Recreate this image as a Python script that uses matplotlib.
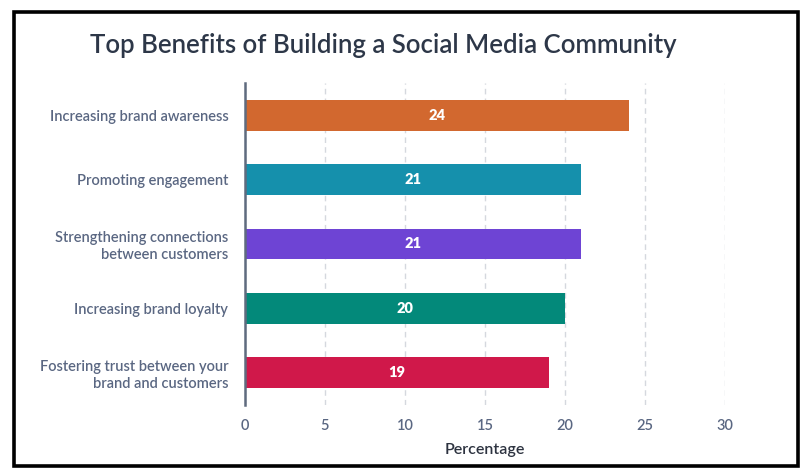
import matplotlib
matplotlib.use("Agg")
import matplotlib.pyplot as plt
from matplotlib.patches import Rectangle

# Datos
categorias = ["Increasing brand awareness",
              "Promoting engagement",
              "Strengthening connections\nbetween customers",
              "Increasing brand loyalty",
              "Fostering trust between your\nbrand and customers"]
valores = [24, 21, 21, 20, 19]
colores = ["#D2682F", "#1590AC", "#6E44D4", "#03897A", "#D0184A"]
ticks_x = [0, 5, 10, 15, 20, 25, 30]

plt.rcParams['font.family'] = ['Lato', 'DejaVu Sans']

fig = plt.figure(figsize=(8.12, 4.76), dpi=100)
ax = fig.add_axes([245 / 812, 1 - 405 / 476, 480 / 812, 322 / 476])

pos = list(range(len(categorias)))
barras = ax.barh(pos, valores, height=0.48, color=colores, zorder=3)
for b, v in zip(barras, valores):
    ax.text(v / 2, b.get_y() + b.get_height() / 2, str(v), ha='center', va='center',
            color='white', fontsize=10.5, fontweight='heavy', zorder=4)

ax.set_ylim(4.5, -0.5)
ax.set_xlim(0, 30)
ax.set_yticks(pos)
ax.set_yticklabels(categorias, fontsize=10.5, color='#5A6782', fontweight='semibold')
ax.set_xticks(ticks_x)
ax.set_xticklabels([str(t) for t in ticks_x], fontsize=10.5, color='#5A6782', fontweight='semibold')
ax.tick_params(axis='y', length=0, pad=12)
ax.tick_params(axis='x', length=0, pad=10)
ax.xaxis.grid(True, linestyle=(0, (4, 3)), color='#D5D8DE', linewidth=1, zorder=0)
ax.set_xlabel('Percentage', fontsize=11.5, color='#2D3340', fontweight='semibold', labelpad=7)

for s in ['top', 'right', 'bottom']:
    ax.spines[s].set_visible(False)
ax.spines['left'].set_color('#5F6B7E')
ax.spines['left'].set_linewidth(1.8)
ax.spines['left'].set_zorder(5)

fig.text(90 / 812, 1 - 45 / 476, 'Top Benefits of Building a Social Media Community',
         fontsize=18.5, color='#2D3748', fontweight='semibold', va='center', ha='left')

# marco negro
fig.patches.append(Rectangle((14.5 / 812, 1 - 465.5 / 476), 784 / 812, 454 / 476,
                             transform=fig.transFigure, fill=False, edgecolor='black',
                             linewidth=2.6))

fig.savefig('out.png', dpi=100)
